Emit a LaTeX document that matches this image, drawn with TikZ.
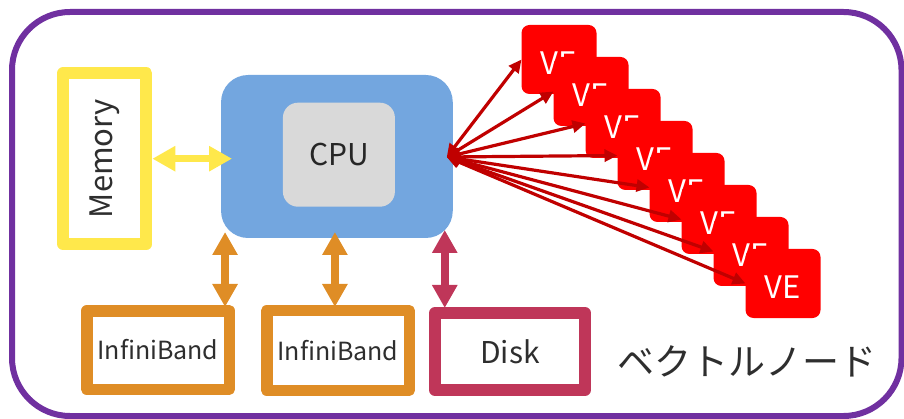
\documentclass[tikz,border=0pt]{standalone}
\usepackage{fontspec}
\usepackage{graphicx}
\newfontfamily\jp{Noto Sans CJK JP}
\usetikzlibrary{arrows.meta,calc}

\definecolor{framepurple}{HTML}{7030A0}
\definecolor{memyellow}{HTML}{FFE84B}
\definecolor{cpublue}{HTML}{73A6DF}
\definecolor{cpugrey}{HTML}{D9D9D9}
\definecolor{iborange}{HTML}{DF8D26}
\definecolor{diskred}{HTML}{BF3659}
\definecolor{vered}{HTML}{FF0000}
\definecolor{linkred}{HTML}{C00000}
\definecolor{txt}{HTML}{2E2E2E}

\tikzset{
  framebox/.style={draw=#1, line join=round, fill=white, inner sep=0pt, text=txt},
  blockarrow/.style={draw=#1, line width=7.5pt,
    {Triangle[length=23pt,width=24pt]}-{Triangle[length=23pt,width=24pt]}},
  velink/.style={draw=linkred, line width=3.2pt,
    {Triangle[length=13pt,width=12pt]}-{Triangle[length=13pt,width=12pt]}},
  vebox/.style={fill=vered, rounded corners=8pt, minimum width=75pt, minimum height=69pt,
    inner sep=0pt, outer sep=0pt, text=white, text height=30pt,
    font=\jp\fontsize{31}{36}\selectfont}
}

\begin{document}
\begin{tikzpicture}[x=1pt,y=-1pt]
\useasboundingbox (0,0) rectangle (904,419);

% outer frame of the node
\draw[framepurple, line width=6pt, rounded corners=58pt] (12,12) rectangle (901.5,416);

% memory
\node[framebox=memyellow, line width=12pt, minimum width=83pt, minimum height=171pt,
      font=\jp\fontsize{31}{36}\selectfont] (mem) at (104.8,158.7) {\rotatebox{90}{Memory}};

% CPU package
\node[fill=cpublue, rounded corners=27pt, minimum width=231.7pt, minimum height=163pt,
      inner sep=0pt, outer sep=0pt] (cpu) at (336.9,156.5) {};
\node[fill=cpugrey, rounded corners=15pt, minimum width=112pt, minimum height=104pt,
      inner sep=0pt, text=black!85, font=\jp\fontsize{30}{36}\selectfont] (core) at (338.9,154.7) {CPU};

% I/O devices
\node[framebox=iborange, line width=11.5pt, minimum width=142.5pt, minimum height=78.5pt,
      font=\jp\fontsize{25}{30}\selectfont] (ib1) at (158,350) {InfiniBand};
\node[framebox=iborange, line width=11.5pt, minimum width=142.5pt, minimum height=79.5pt,
      font=\jp\fontsize{25}{30}\selectfont] (ib2) at (338,350.5) {InfiniBand};
\node[framebox=diskred, line width=12pt, minimum width=150pt, minimum height=77pt,
      font=\jp\fontsize{30}{36}\selectfont] (disk) at (510,351.5) {Disk};

% label
\node[text=txt, inner sep=0pt, font=\jp\fontsize{37}{44}\selectfont] (lbl) at (747,361) {ベクトルノード};

% vector engines
\foreach \i in {1,...,8}
  \node[vebox] (ve\i) at ({559+32*(\i-1)},{59.5+32*(\i-1)}) {VE};

% memory link
\draw[blockarrow=memyellow] (mem.east) -- ($(mem.east -| cpu.west)+(11,0)$);

% I/O links
\coordinate (a1) at ($(cpu.south west)+(4,-6)$);
\coordinate (b1) at ($(a1 |- ib1.north)+(0,2)$);
\coordinate (a2) at ($(cpu.south)+(-2,-6)$);
\coordinate (b2) at ($(a2 |- ib2.north)+(0,2)$);
\coordinate (a3) at ($(cpu.south east)+(-8,-8)$);
\coordinate (b3) at ($(a3 |- disk.north)+(0,1)$);
\draw[blockarrow=iborange] (a1) -- (b1);
\draw[blockarrow=iborange] (a2) -- (b2);
\draw[blockarrow=diskred] (a3) -- (b3);

% links to the vector engines
\coordinate (hub) at ($(cpu.east)+(-6,0.5)$);
\foreach \i in {1,...,8}
  \draw[velink] (hub) -- (ve\i.west);
\end{tikzpicture}
\end{document}
